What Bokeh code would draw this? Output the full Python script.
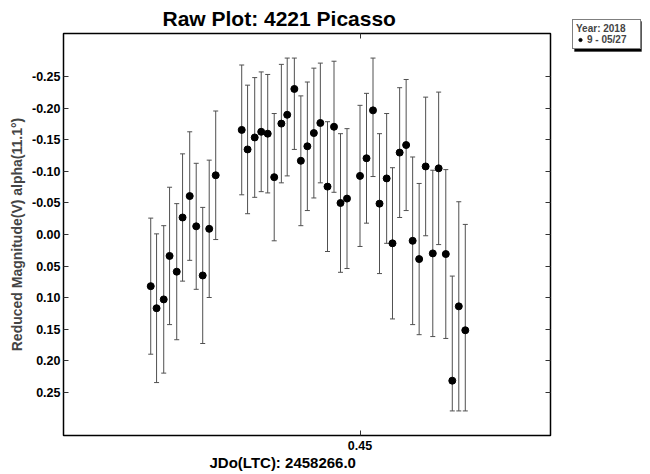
import numpy as np
from bokeh.plotting import figure
from bokeh.layouts import row
from bokeh.models import (ColumnDataSource, Range1d, LinearAxis, FixedTicker, PrintfTickFormatter,
                          CustomJSTickFormatter, Whisker, TeeHead, Legend, LegendItem, Title,
                          BoxAnnotation)
from bokeh.embed import file_html
from bokeh.resources import INLINE

# ---------------- data ----------------
jd = [0.4178, 0.4187, 0.4198, 0.4207, 0.4218, 0.4227, 0.4238, 0.4248, 0.4258, 0.4268, 0.4278,
      0.4318, 0.4327, 0.4338, 0.4348, 0.4358, 0.4368, 0.4379, 0.4388, 0.4399, 0.4409, 0.4419,
      0.4429, 0.4439, 0.4450, 0.4460, 0.4470, 0.4480, 0.4500, 0.4510, 0.4520, 0.4530, 0.4541,
      0.4550, 0.4561, 0.4571, 0.4581, 0.4591, 0.4601, 0.4612, 0.4621, 0.4632, 0.4642, 0.4652,
      0.4662]
mag = [0.082, 0.117, 0.103, 0.034, 0.059, -0.027, -0.061, -0.013, 0.065, -0.009, -0.094,
       -0.166, -0.135, -0.154, -0.163, -0.160, -0.091, -0.176, -0.190, -0.231, -0.117, -0.140,
       -0.161, -0.177, -0.076, -0.171, -0.050, -0.057, -0.093, -0.121, -0.197, -0.049, -0.089,
       0.014, -0.130, -0.142, 0.010, 0.039, -0.108, 0.030, -0.105, 0.031, 0.232, 0.114,
       0.152]
err = [0.108, 0.118, 0.117, 0.109, 0.108, 0.101, 0.102, 0.100, 0.108, 0.109, 0.102,
       0.103, 0.102, 0.095, 0.095, 0.094, 0.101, 0.094, 0.097, 0.096, 0.103, 0.102,
       0.103, 0.095, 0.103, 0.104, 0.110, 0.111, 0.112, 0.103, 0.105, 0.111, 0.103,
       0.120, 0.103, 0.104, 0.133, 0.120, 0.110, 0.132, 0.121, 0.134, 0.166, 0.166,
       0.168]
err_clip = 0.28
y_ticks = [-0.25, -0.20, -0.15, -0.10, -0.05, 0.00, 0.05, 0.10, 0.15, 0.20, 0.25]
x_ticks = [0.45]
title_text = "Raw Plot: 4221 Picasso"
x_label = "JDo(LTC): 2458266.0"
y_label = "Reduced Magnitude(V) alpha(11.1°)"
legend_title = "Year: 2018"
legend_label = "9 - 05/27"

FONT = "Liberation Sans"

mag_a = np.array(mag)
err_a = np.array(err)
src = ColumnDataSource(dict(
    x=jd, y=mag,
    lower=np.maximum(mag_a - err_a, -err_clip),
    upper=np.minimum(mag_a + err_a, err_clip),
))

# ---------------- main plot ----------------
p = figure(width=565, height=474, output_backend="svg", toolbar_location=None,
           x_range=Range1d(0.40438, 0.47931), y_range=Range1d(0.319, -0.319),
           x_axis_type=None, y_axis_type=None,
           min_border_left=63, min_border_right=15, min_border_top=33, min_border_bottom=39)
p.background_fill_color = "white"
p.border_fill_color = "white"
p.outline_line_color = "black"
p.outline_line_width = 1.5
p.frame_align = False


def style_axis(ax, labels=True):
    ax.axis_line_color = None
    ax.major_tick_in = 5
    ax.major_tick_out = 0
    ax.minor_tick_in = 0
    ax.minor_tick_out = 0
    ax.major_tick_line_color = "#333333"
    ax.major_label_text_font = FONT
    ax.major_label_text_font_style = "bold"
    ax.major_label_text_font_size = "12.5px"
    ax.major_label_text_color = "black"
    ax.major_label_standoff = 5
    if not labels:
        ax.formatter = CustomJSTickFormatter(code="return ''")
        ax.major_label_text_font_size = "1px"
        ax.major_label_standoff = 0


left = LinearAxis(ticker=FixedTicker(ticks=y_ticks), formatter=PrintfTickFormatter(format="%.2f"))
style_axis(left)
left.major_label_standoff = 3
left.axis_label = y_label
left.axis_label_text_font = FONT
left.axis_label_text_font_style = "bold"
left.axis_label_text_font_size = "14px"
left.axis_label_standoff = 4
p.add_layout(left, "left")

right = LinearAxis(ticker=FixedTicker(ticks=y_ticks))
style_axis(right, labels=False)
p.add_layout(right, "right")

bottom = LinearAxis(ticker=FixedTicker(ticks=x_ticks), formatter=PrintfTickFormatter(format="%.2f"))
style_axis(bottom)
p.add_layout(bottom, "below")

top = LinearAxis(ticker=FixedTicker(ticks=x_ticks))
style_axis(top, labels=False)
p.add_layout(top, "above")

p.add_layout(Title(text=title_text, align="left", offset=99, standoff=8,
                   text_font=FONT, text_font_style="bold", text_font_size="21px",
                   text_color="black"), "above")
p.add_layout(Title(text=x_label, align="left", offset=146, standoff=2, vertical_align="top",
                   text_font=FONT, text_font_style="bold", text_font_size="15px",
                   text_color="black"), "below")

whisk = Whisker(source=src, base="x", upper="upper", lower="lower", dimension="height",
                line_color="#505050", line_width=1,
                upper_head=TeeHead(size=5, line_color="#505050", line_width=1),
                lower_head=TeeHead(size=5, line_color="#505050", line_width=1))
p.add_layout(whisk)

r = p.scatter("x", "y", source=src, size=7, fill_color="black", line_color="black")

# ---------------- legend panel (page pixel coordinates) ----------------
p2 = figure(width=85, height=474, output_backend="svg", toolbar_location=None,
            x_range=Range1d(565, 650), y_range=Range1d(474, 0),
            x_axis_type=None, y_axis_type=None,
            min_border_left=0, min_border_right=0, min_border_top=0, min_border_bottom=0)
p2.outline_line_color = None
p2.background_fill_color = "white"
p2.border_fill_color = "white"
p2.frame_align = False

# same series, drawn off-view here; it only supplies the legend's marker
r2 = p2.scatter("x", "y", source=src, size=7, fill_color="black", line_color="black")

p2.add_layout(BoxAnnotation(left=574, right=641, top=21, bottom=51,
                            fill_color="black", fill_alpha=1.0, line_color="black"))

legend = Legend(items=[LegendItem(label=legend_label, renderers=[r2])], title=legend_title,
                location=(7, 425), orientation="vertical",
                border_line_color="black", border_line_width=1, background_fill_color="white",
                background_fill_alpha=1.0, padding=3, margin=0, spacing=0,
                label_text_font=FONT, label_text_font_style="bold", label_text_font_size="10px",
                label_height=11, label_width=50, glyph_height=11, glyph_width=8, label_standoff=3,
                title_text_font=FONT, title_text_font_style="bold", title_text_font_size="10px",
                title_standoff=0)
p2.add_layout(legend)

open("out.html", "w").write(file_html(row(p, p2), INLINE))
